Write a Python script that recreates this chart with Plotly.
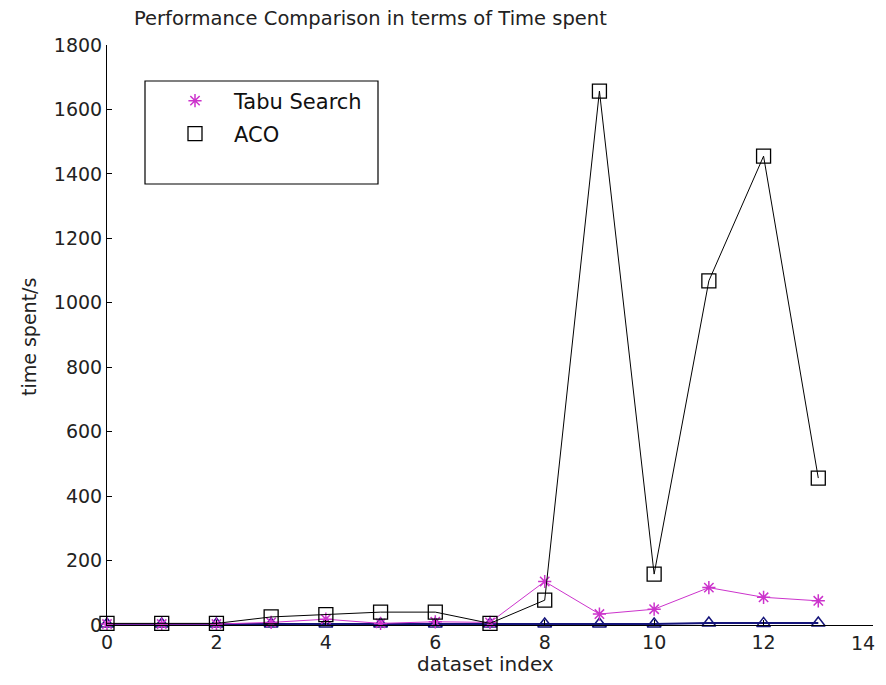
import plotly.graph_objects as go

idx = list(range(14))
tabu = [3, 3, 3, 8, 18, 5, 10, 8, 135, 34, 49, 116, 86, 75]
aco = [5, 5, 5, 25, 32, 40, 40, 5, 77, 1657, 158, 1068, 1455, 456]
other = [3, 3, 3, 3, 3, 3, 3, 3, 3, 3, 3, 6, 5, 6]
x_ticks = [0, 2, 4, 6, 8, 10, 12, 14]
x_ticktext = ["0", "2", "4", "6", "8", "10", "12", ""]
last_x_label = "14"
y_ticks = [0, 200, 400, 600, 800, 1000, 1200, 1400, 1600, 1800]

OFF = 8  # page body margin
W, H = 886 - 2 * OFF, 685 - 2 * OFF
L, T = 107 - OFF, 45 - OFF
R = W - (873 - OFF)
B = H - (625 - OFF)
pw, ph = W - L - R, H - T - B

def px(xp):
    return (xp - OFF - L) / pw

def py(yp):
    return (H - B - (yp - OFF)) / ph

MAG = "#cc33cc"
NAVY = "#14147a"
FONT = "DejaVu Sans, Verdana, sans-serif"

fig = go.Figure()
fig.add_trace(go.Scatter(
    x=idx, y=other, mode="lines+markers",
    line=dict(color=NAVY, width=2),
    marker=dict(symbol="triangle-up-open", size=12, color=NAVY, line=dict(width=1.5)),
    showlegend=False, cliponaxis=False))
fig.add_trace(go.Scatter(
    x=idx, y=tabu, mode="lines+markers",
    line=dict(color=MAG, width=1),
    marker=dict(symbol="asterisk-open", size=11, color=MAG, line=dict(width=1.5, color=MAG)),
    showlegend=False, cliponaxis=False))
fig.add_trace(go.Scatter(
    x=idx, y=aco, mode="lines+markers",
    line=dict(color="black", width=1),
    marker=dict(symbol="square-open", size=14, color="black", line=dict(width=1.3)),
    showlegend=False, cliponaxis=False))
# legend-only marker entries
fig.add_trace(go.Scatter(
    x=[None], y=[None], mode="markers", name="Tabu Search",
    marker=dict(symbol="asterisk-open", size=11, color=MAG, line=dict(width=1.5, color=MAG)),
    legend="legend"))
fig.add_trace(go.Scatter(
    x=[None], y=[None], mode="markers", name="ACO",
    marker=dict(symbol="square-open", size=14, color="black", line=dict(width=1.3)),
    legend="legend2"))

leg_common = dict(bgcolor="rgba(0,0,0,0)", borderwidth=0,
                  font=dict(family=FONT, size=21, color="#111"),
                  xanchor="left", yanchor="middle", itemwidth=68)

axis_common = dict(showgrid=False, zeroline=False, showline=True, linecolor="black",
                   linewidth=1, ticks="inside", ticklen=5, tickcolor="black",
                   tickfont=dict(family=FONT, size=19, color="#222"), automargin=False,
                   ticklabeloverflow="allow")

fig.update_layout(
    width=W, height=H,
    margin=dict(l=L, r=R, t=T, b=B),
    paper_bgcolor="white", plot_bgcolor="white",
    font=dict(family=FONT, size=19, color="#222"),
    legend=dict(x=px(156), y=py(101), **leg_common),
    legend2=dict(x=px(156), y=py(134), **leg_common),
    xaxis=dict(range=[0, 14], tickvals=x_ticks, ticktext=x_ticktext, **axis_common),
    yaxis=dict(range=[0, 1800], tickvals=y_ticks, **axis_common),
    shapes=[dict(type="rect", xref="paper", yref="paper",
                 x0=px(145), x1=px(378), y0=py(184), y1=py(81),
                 line=dict(color="black", width=1.2), fillcolor="rgba(0,0,0,0)")],
    annotations=[
        dict(text="Performance Comparison in terms of Time spent",
             xref="paper", yref="paper", x=px(370), y=py(18),
             xanchor="center", yanchor="middle", showarrow=False,
             font=dict(family=FONT, size=19.5, color="#222")),
        dict(text="dataset index",
             xref="paper", yref="paper", x=px(485), y=py(664),
             xanchor="center", yanchor="middle", showarrow=False,
             font=dict(family=FONT, size=20, color="#222")),
        dict(text="time spent/s", textangle=-90,
             xref="paper", yref="paper", x=px(29), y=py(337),
             xanchor="center", yanchor="middle", showarrow=False,
             font=dict(family=FONT, size=19, color="#222")),
        dict(text=last_x_label,
             xref="paper", yref="paper", x=px(876), y=py(643),
             xanchor="right", yanchor="middle", showarrow=False, borderpad=0,
             font=dict(family=FONT, size=19, color="#222")),
    ],
)

fig.write_html("out.html")
